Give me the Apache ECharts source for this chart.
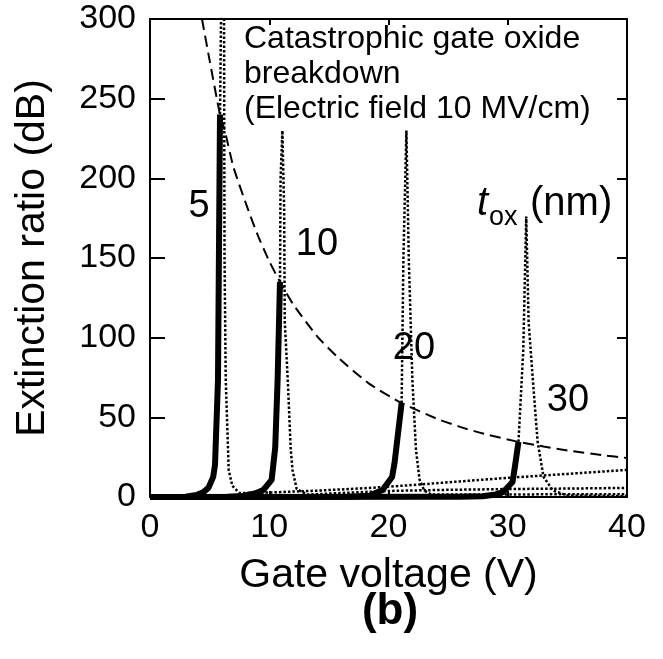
<!DOCTYPE html>
<html>
<head>
<meta charset="utf-8">
<script src="https://cdn.jsdelivr.net/npm/echarts@6/dist/echarts.min.js"></script>
<style>
  html, body { margin: 0; padding: 0; background: #fff; }
  #chart { width: 663px; height: 659px; }
</style>
</head>
<body>
<div id="chart"></div>
<script>
// Gate voltage (V) vs extinction ratio (dB) for several oxide thicknesses (nm)
const thicknesses = ['5', '10', '20', '30'];

// measured curves up to the oxide breakdown point (solid)
const solid5  = [[0,0],[3,0.2],[3.9,1.3],[4.5,3.2],[4.9,5.7],[5.3,12.6],[5.45,20],[5.7,73],[5.87,240]];
const solid10 = [[0,0],[6.5,0.2],[7.8,0.6],[8.8,2.2],[9.5,4.4],[10.2,10.7],[10.5,31],[10.7,73],[10.9,135]];
const solid20 = [[0,0],[16.5,0.2],[18.4,0.8],[19.5,4.4],[20.3,12.6],[20.5,21],[21.1,59]];
const solid30 = [[0,0],[26,0.2],[27.9,0.5],[29.0,1.6],[29.6,3],[30.4,9.4],[30.6,19],[30.9,34.6]];

// continuation past breakdown (dotted)
const dotted5  = [[5.87,240],[6.0,330],[6.1,345],[6.2,330],[6.25,150],[6.35,74],[6.6,17],[6.9,7],[7.5,2.5],[10,2.8],[14,4],[18,5.5],[22,7.5],[26,9.8],[30,12],[35,14.5],[40,17]];
const dotted10 = [[10.9,135],[10.95,200],[11.1,230],[11.25,180],[11.3,110],[11.55,74],[11.8,30],[11.95,17],[12.3,5],[13.2,1.5],[16,2.5],[20,3.8],[25,4.5],[30,5],[35,5.3],[40,5.7]];
const dotted20 = [[21.1,59],[21.25,150],[21.5,230],[21.7,150],[22.0,74],[22.3,30],[22.6,11],[23.0,4],[23.6,1.5],[30,1.6],[40,1.8]];
const dotted30 = [[30.9,34.6],[31.3,92],[31.55,176],[31.75,110],[32.1,74],[32.5,35],[33.0,12.6],[33.8,4],[35,1],[40,0.6]];

// breakdown limit at 10 MV/cm (dashed)
const breakdown = [[4.36,300],[5,274],[5.87,240],[6.3,229],[7,207],[8.1,183],[9,165],[10,148],[10.9,135],[12,121],[14,101],[15.7,88],[18.4,71],[21.1,59],[24,49.3],[26,44],[28,39.7],[30.9,34.6],[33,31.7],[35.2,29],[38,26.2],[40,24.5]];

const xTicks = { min: 0, max: 40, interval: 10 };
const yTicks = { min: 0, max: 300, interval: 50 };

const FONT = 'Liberation Sans, Arial, Helvetica, sans-serif';
const chart = echarts.init(document.getElementById('chart'), null, { renderer: 'canvas' });

const axisLine = { show: true, onZero: false, lineStyle: { color: '#000', width: 2 } };

function dottedSeries(data) {
  return { type: 'line', data, symbol: 'none', clip: true, z: 2,
    lineStyle: { color: '#000', width: 2.5, type: [2.5, 2], cap: 'butt' } };
}
function solidSeries(data) {
  return { type: 'line', data, symbol: 'none', clip: false, z: 4,
    lineStyle: { color: '#000', width: 6, cap: 'butt', join: 'round' } };
}

chart.setOption({
  animation: false,
  backgroundColor: '#fff',
  grid: { left: 150, right: 36, top: 19, bottom: 162 },
  xAxis: [
    { type: 'value', position: 'bottom', ...xTicks,
      name: 'Gate voltage (V)', nameLocation: 'middle', nameGap: 58,
      nameTextStyle: { fontFamily: FONT, fontSize: 41, color: '#000' },
      axisLine, splitLine: { show: false },
      axisTick: { show: true, inside: true, length: 6, lineStyle: { color: '#000', width: 2 } },
      axisLabel: { fontFamily: FONT, fontSize: 34, color: '#000', margin: 14 } },
    { type: 'value', position: 'top', ...xTicks, axisLine, splitLine: { show: false },
      axisTick: { show: true, inside: true, length: 6, lineStyle: { color: '#000', width: 2 } },
      axisLabel: { show: false } }
  ],
  yAxis: [
    { type: 'value', position: 'left', ...yTicks,
      name: 'Extinction ratio (dB)', nameLocation: 'middle', nameGap: 97,
      nameTextStyle: { fontFamily: FONT, fontSize: 41, color: '#000' },
      axisLine, splitLine: { show: false },
      axisTick: { show: true, inside: true, length: 15, lineStyle: { color: '#000', width: 2 } },
      axisLabel: { fontFamily: FONT, fontSize: 34, color: '#000', margin: 14 } },
    { type: 'value', position: 'right', ...yTicks, axisLine, splitLine: { show: false },
      axisTick: { show: true, inside: true, length: 10, lineStyle: { color: '#000', width: 2 } },
      axisLabel: { show: false } }
  ],
  series: [
    dottedSeries(dotted5), dottedSeries(dotted10), dottedSeries(dotted20), dottedSeries(dotted30),
    solidSeries(solid5), solidSeries(solid10), solidSeries(solid20), solidSeries(solid30),
    { type: 'line', data: breakdown, symbol: 'none', clip: true, z: 3, smooth: 0.2,
      lineStyle: { color: '#000', width: 2, type: [11, 6], cap: 'butt' } }
  ],
  graphic: [
    { type: 'text', left: 244, top: 22, z: 10,
      style: { text: 'Catastrophic gate oxide\nbreakdown\n(Electric field 10 MV/cm)',
        font: '32px ' + FONT, fill: '#000', lineHeight: 35 } },
    { type: 'text', x: 199, y: 207, z: 10, style: { text: thicknesses[0], font: '38px ' + FONT, fill: '#000', align: 'center', verticalAlign: 'middle' } },
    { type: 'text', x: 317, y: 245, z: 10, style: { text: thicknesses[1], font: '38px ' + FONT, fill: '#000', align: 'center', verticalAlign: 'middle' } },
    { type: 'text', x: 414, y: 349, z: 10, style: { text: thicknesses[2], font: '38px ' + FONT, fill: '#000', align: 'center', verticalAlign: 'middle' } },
    { type: 'text', x: 568, y: 401, z: 10, style: { text: thicknesses[3], font: '38px ' + FONT, fill: '#000', align: 'center', verticalAlign: 'middle' } },
    { type: 'text', x: 477, y: 204, z: 10, style: { text: 't', font: 'italic 40px ' + FONT, fill: '#000', verticalAlign: 'middle' } },
    { type: 'text', x: 489, y: 218, z: 10, style: { text: 'ox', font: '27px ' + FONT, fill: '#000', verticalAlign: 'middle' } },
    { type: 'text', x: 530, y: 204, z: 10, style: { text: '(nm)', font: '40px ' + FONT, fill: '#000', verticalAlign: 'middle' } },
    { type: 'text', x: 390, y: 612, z: 10, style: { text: '(b)', font: 'bold 44px ' + FONT, fill: '#000', align: 'center', verticalAlign: 'middle' } }
  ]
});
</script>
</body>
</html>
